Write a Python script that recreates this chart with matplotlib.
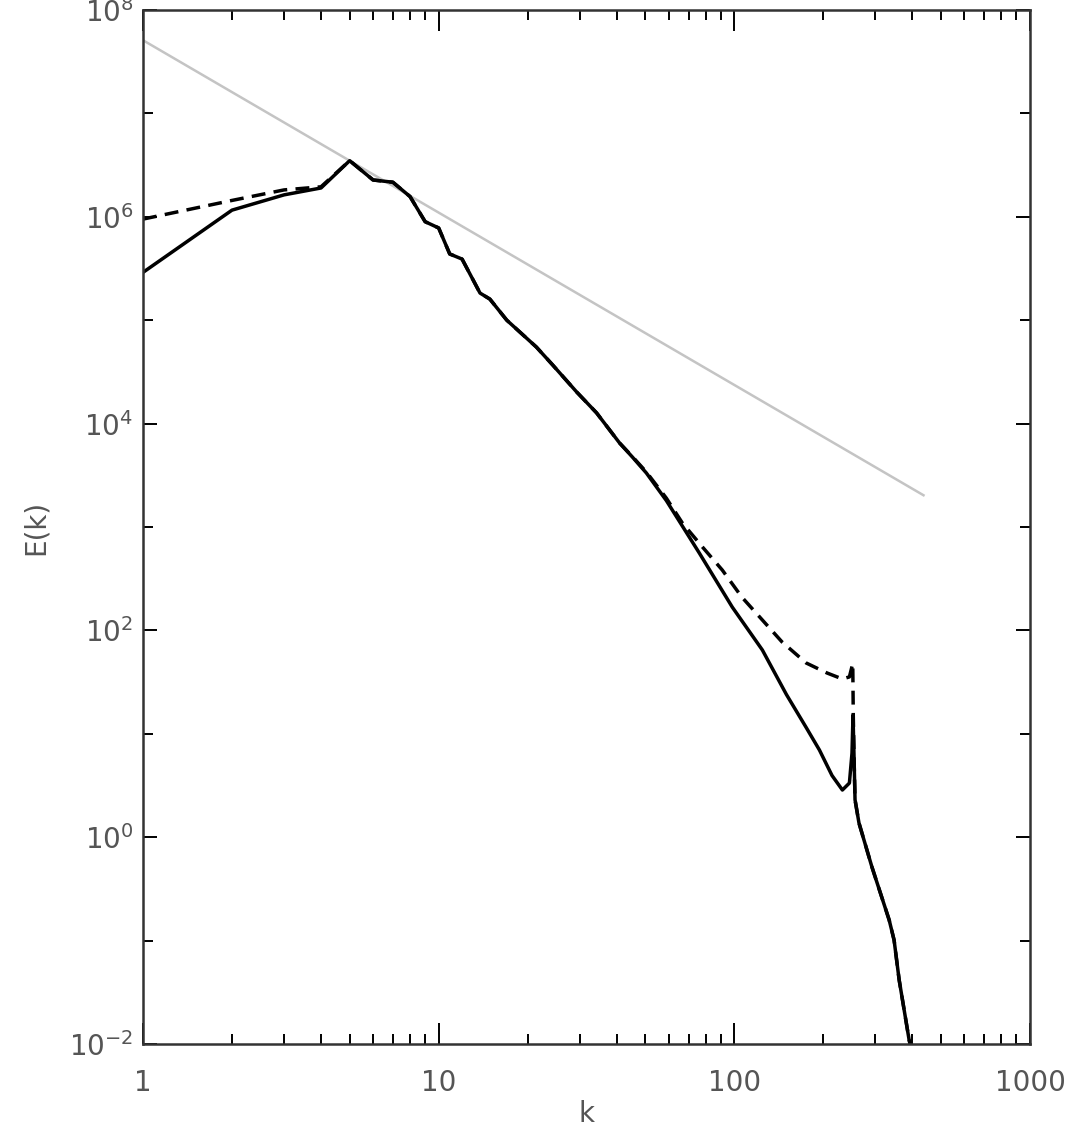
import matplotlib
matplotlib.use("Agg")
import matplotlib.pyplot as plt
from matplotlib.ticker import FixedLocator, NullFormatter, FixedFormatter

# ---- data ----
k_solid = [1, 2, 3, 4, 5, 6, 7, 8, 9, 10, 10.9, 12, 13.8, 14.9, 17, 21.4, 24.3,
           29.3, 34.2, 40.9, 45.2, 50.4, 58.9, 76.1, 98.4, 124.4, 150, 175, 194,
           214, 232, 245, 250, 252, 254, 256, 264, 292, 334, 347, 361, 390, 410]
E_solid = [2.9e5, 1.16e6, 1.63e6, 1.9e6, 3.49e6, 2.27e6, 2.16e6, 1.57e6, 8.97e5,
           7.8e5, 4.37e5, 3.9e5, 1.83e5, 1.6e5, 1.0e5, 5.5e4, 3.69e4, 2.02e4,
           1.27e4, 6.5e3, 4.75e3, 3.33e3, 1.8e3, 561, 168, 64.6, 24, 11.5, 6.97,
           3.95, 2.86, 3.34, 6.5, 15.2, 6.0, 2.3, 1.37, 0.515, 0.158, 0.101,
           0.0416, 0.011, 0.006]

k_dash = [1, 2, 3, 4, 5, 6, 7, 8, 9, 10, 10.9, 12, 13.8, 14.9, 17, 21.4, 24.3,
          29.3, 34.2, 40.9, 45.2, 50.4, 58.9, 66.7, 78, 91, 106, 124.4, 145, 175,
          206, 232, 245, 251.5, 252.5, 254, 256, 264, 292, 334, 347, 361, 390, 410]
E_dash = [9.5e5, 1.44e6, 1.82e6, 1.95e6, 3.49e6, 2.27e6, 2.16e6, 1.57e6, 8.97e5,
          7.8e5, 4.37e5, 3.9e5, 1.83e5, 1.6e5, 1.0e5, 5.5e4, 3.69e4, 2.02e4,
          1.27e4, 6.5e3, 4.8e3, 3.4e3, 1.9e3, 1094, 641, 384, 210, 126, 77.3,
          48.4, 38.7, 33.9, 35.5, 48, 15.2, 6.0, 2.3, 1.37, 0.515, 0.158, 0.101,
          0.0416, 0.011, 0.006]

k_ref = [1, 440]
E_ref = [5.1e7, 2.0e3]

x_ticks = [1, 10, 100, 1000]
x_labels = ["1", "10", "100", "1000"]
y_major = [1e-2, 1e0, 1e2, 1e4, 1e6, 1e8]
y_labels = ["$\\mathregular{10^{-2}}$", "$\\mathregular{10^{0}}$",
            "$\\mathregular{10^{2}}$", "$\\mathregular{10^{4}}$",
            "$\\mathregular{10^{6}}$", "$\\mathregular{10^{8}}$"]
y_minor = [1e-1, 1e1, 1e3, 1e5, 1e7]

plt.rcParams['lines.scale_dashes'] = False
plt.rcParams['font.family'] = ['DejaVu Sans']

fig = plt.figure(figsize=(10.73, 11.27), dpi=100)
ax = fig.add_axes([143/1073, 1 - 1044/1127, (1030-143)/1073, (1044-10)/1127])

ax.plot(k_ref, E_ref, color="#c4c4c4", lw=1.8, solid_capstyle="butt")
ax.plot(k_dash, E_dash, color="black", lw=2.5, dashes=(10, 6))
ax.plot(k_solid, E_solid, color="black", lw=2.5)

ax.set_xscale("log")
ax.set_yscale("log")
ax.set_xlim(1, 1000)
ax.set_ylim(1e-2, 1e8)

txtc = "#555555"
ax.xaxis.set_major_locator(FixedLocator(x_ticks))
ax.xaxis.set_major_formatter(FixedFormatter(x_labels))
ax.xaxis.set_minor_locator(FixedLocator([m * d for d in [1, 10, 100] for m in range(2, 10)]))
ax.xaxis.set_minor_formatter(NullFormatter())
ax.yaxis.set_major_locator(FixedLocator(y_major))
ax.yaxis.set_major_formatter(FixedFormatter(y_labels))
ax.yaxis.set_minor_locator(FixedLocator(y_minor))
ax.yaxis.set_minor_formatter(NullFormatter())

ax.tick_params(axis="both", which="both", direction="in", top=True, right=True,
               colors="black", labelcolor=txtc, labelsize=20, width=1.4)
ax.tick_params(axis="x", which="major", length=15, pad=18)
ax.tick_params(axis="x", which="minor", length=7.5)
ax.tick_params(axis="y", which="major", length=10, pad=7)
ax.tick_params(axis="y", which="minor", length=7.5)

for s in ax.spines.values():
    s.set_color("#333333")
    s.set_linewidth(1.8)

ax.set_xlabel("k", fontsize=20, color=txtc)
ax.set_ylabel("E(k)", fontsize=20, color=txtc)
ax.xaxis.set_label_coords(0.5, -0.054)
ax.yaxis.set_label_coords(-0.105, 0.5)

fig.savefig("out.png", dpi=100)
